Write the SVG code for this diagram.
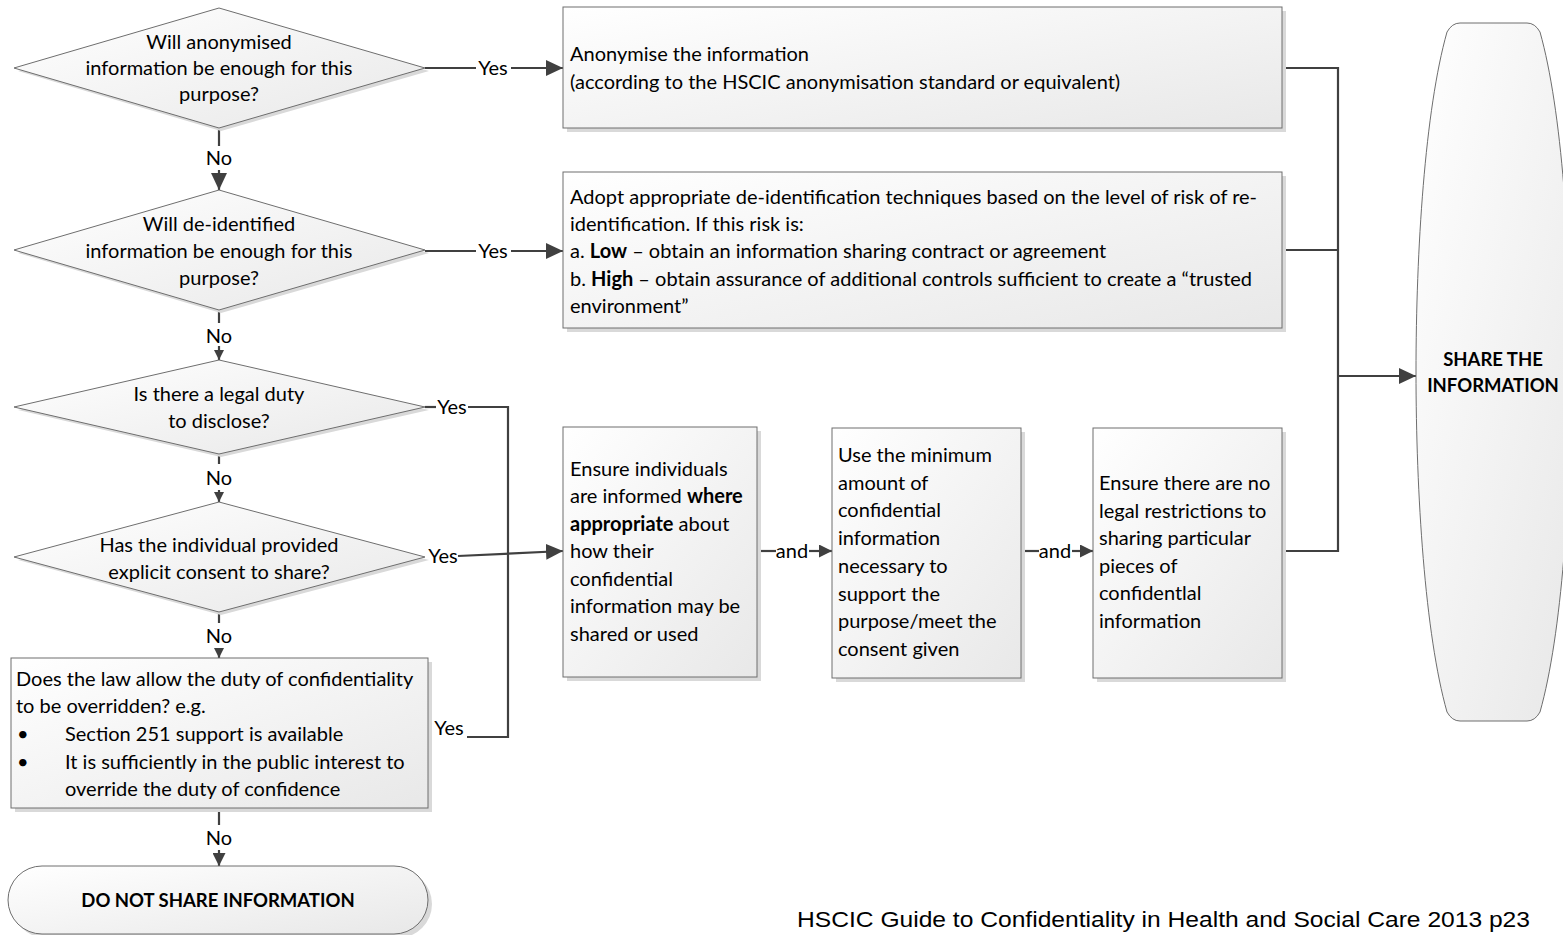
<svg xmlns="http://www.w3.org/2000/svg" width="1563" height="935" viewBox="0 0 1563 935">
<defs>
<linearGradient id="g" x1="0" y1="0" x2="1" y2="1">
<stop offset="0" stop-color="#ffffff"/>
<stop offset="1" stop-color="#e8e8e8"/>
</linearGradient>
<marker id="ah" viewBox="0 0 17 16" refX="17" refY="8" markerWidth="17" markerHeight="16" markerUnits="userSpaceOnUse" orient="auto">
<path d="M0,0 L17,8 L0,16 Z" fill="#404040"/>
</marker>
<marker id="am" viewBox="0 0 13 13" refX="13" refY="6.5" markerWidth="13" markerHeight="13" markerUnits="userSpaceOnUse" orient="auto">
<path d="M0,0 L13,6.5 L0,13 Z" fill="#404040"/>
</marker>
<marker id="as" viewBox="0 0 10 10" refX="10" refY="5" markerWidth="10" markerHeight="10" markerUnits="userSpaceOnUse" orient="auto">
<path d="M0,0 L10,5 L0,10 Z" fill="#404040"/>
</marker>
<style>
.s{fill:url(#g);stroke:#6e6e6e;stroke-width:1}
.sh{fill:#d9d9d9;stroke:none}
.t{font-family:Lato,"Open Sans",sans-serif;font-size:20px;fill:#000}
.c{text-anchor:middle}
.b{font-weight:bold}
.tb{font-family:Lato,"Open Sans",sans-serif;font-size:18.5px;font-weight:bold;fill:#000;text-anchor:middle}
.ln{fill:none;stroke:#404040;stroke-width:2.2}
.lb{font-family:Lato,"Open Sans",sans-serif;font-size:20px;fill:#000;text-anchor:middle}
</style>
</defs>
<rect width="1563" height="935" fill="#ffffff"/>

<g id="connectors">
<line class="ln" x1="425" y1="68" x2="476" y2="68"/>
<line class="ln" x1="511" y1="68" x2="563" y2="68" marker-end="url(#ah)"/>
<text class="lb" x="493" y="75">Yes</text>
<line class="ln" x1="425" y1="251" x2="476" y2="251"/>
<line class="ln" x1="511" y1="251" x2="563" y2="251" marker-end="url(#ah)"/>
<text class="lb" x="493" y="258">Yes</text>
<line class="ln" x1="219" y1="128" x2="219" y2="146"/>
<line class="ln" x1="219" y1="170" x2="219" y2="190" marker-end="url(#ah)"/>
<text class="lb" x="219" y="165">No</text>
<line class="ln" x1="219" y1="310" x2="219" y2="323"/>
<line class="ln" x1="219" y1="346" x2="219" y2="360" marker-end="url(#as)"/>
<text class="lb" x="219" y="343">No</text>
<line class="ln" x1="219" y1="454" x2="219" y2="464"/>
<line class="ln" x1="219" y1="490" x2="219" y2="502" marker-end="url(#as)"/>
<text class="lb" x="219" y="485">No</text>
<line class="ln" x1="219" y1="612" x2="219" y2="623"/>
<line class="ln" x1="219" y1="648" x2="219" y2="658" marker-end="url(#as)"/>
<text class="lb" x="219" y="643">No</text>
<line class="ln" x1="219" y1="808" x2="219" y2="825"/>
<line class="ln" x1="219" y1="850" x2="219" y2="866" marker-end="url(#am)"/>
<text class="lb" x="219" y="845">No</text>
<line class="ln" x1="425" y1="407" x2="436" y2="407"/>
<polyline class="ln" points="468,407 508,407 508,737 467,737"/>
<text class="lb" x="452" y="414">Yes</text>
<text class="lb" x="449" y="735">Yes</text>
<line class="ln" x1="458" y1="556" x2="563" y2="551" marker-end="url(#ah)"/>
<text class="lb" x="443" y="563">Yes</text>
<line class="ln" x1="757" y1="551" x2="776" y2="551"/>
<line class="ln" x1="809" y1="551" x2="832" y2="551" marker-end="url(#am)"/>
<text class="lb" x="792" y="558">and</text>
<line class="ln" x1="1021" y1="551" x2="1039" y2="551"/>
<line class="ln" x1="1072" y1="551" x2="1093" y2="551" marker-end="url(#am)"/>
<text class="lb" x="1055" y="558">and</text>
<polyline class="ln" points="1282,68 1338,68 1338,551 1282,551"/>
<line class="ln" x1="1282" y1="250" x2="1338" y2="250"/>
<line class="ln" x1="1338" y1="376" x2="1416" y2="376" marker-end="url(#ah)"/>
</g>

<g id="d1">
<polygon class="sh" points="221,11 429,71 221,131 18,71"/>
<polygon class="s" points="219,8 425,68 219,128 14,68"/>
<text class="t c" x="219" y="49">Will anonymised</text>
<text class="t c" x="219" y="75">information be enough for this</text>
<text class="t c" x="219" y="101">purpose?</text>
</g>
<g id="d2">
<polygon class="sh" points="221,193 429,253 221,313 18,253"/>
<polygon class="s" points="219,190 425,250 219,310 14,250"/>
<text class="t c" x="219" y="231">Will de-identified</text>
<text class="t c" x="219" y="258">information be enough for this</text>
<text class="t c" x="219" y="285">purpose?</text>
</g>
<g id="d3">
<polygon class="sh" points="221,363 429,410 221,457 18,410"/>
<polygon class="s" points="219,360 425,407 219,454 14,407"/>
<text class="t c" x="219" y="401">Is there a legal duty</text>
<text class="t c" x="219" y="428">to disclose?</text>
</g>
<g id="d4">
<polygon class="sh" points="221,505 429,560 221,615 18,560"/>
<polygon class="s" points="219,502 425,557 219,612 14,557"/>
<text class="t c" x="219" y="552">Has the individual provided</text>
<text class="t c" x="219" y="579">explicit consent to share?</text>
</g>
<g id="b5">
<rect class="sh" x="15" y="662" width="417" height="150"/>
<rect class="s" x="11" y="658" width="417" height="150"/>
<text class="t" x="16" y="686">Does the law allow the duty of confidentiality</text>
<text class="t" x="16" y="713">to be overridden? e.g.</text>
<text class="t" x="17" y="741">•</text>
<text class="t" x="65" y="741">Section 251 support is available</text>
<text class="t" x="17" y="769">•</text>
<text class="t" x="65" y="769">It is sufficiently in the public interest to</text>
<text class="t" x="65" y="796">override the duty of confidence</text>
</g>
<g id="stop">
<rect class="sh" x="12" y="870" width="420" height="68" rx="34"/>
<rect class="s" x="8" y="866" width="420" height="68" rx="34"/>
<text class="tb" x="218" y="907">DO NOT SHARE INFORMATION</text>
</g>
<g id="bA">
<rect class="sh" x="567" y="11" width="719" height="121"/>
<rect class="s" x="563" y="7" width="719" height="121"/>
<text class="t" x="570" y="61">Anonymise the information</text>
<text class="t" x="570" y="89">(according to the HSCIC anonymisation standard or equivalent)</text>
</g>
<g id="bB">
<rect class="sh" x="567" y="176" width="719" height="156"/>
<rect class="s" x="563" y="172" width="719" height="156"/>
<text class="t" x="570" y="204">Adopt appropriate de-identification techniques based on the level of risk of re-</text>
<text class="t" x="570" y="231">identification. If this risk is:</text>
<text class="t" x="570" y="258">a. <tspan class="b">Low</tspan> – obtain an information sharing contract or agreement</text>
<text class="t" x="570" y="286">b. <tspan class="b">High</tspan> – obtain assurance of additional controls sufficient to create a “trusted</text>
<text class="t" x="570" y="313">environment”</text>
</g>
<g id="bC">
<rect class="sh" x="567" y="431" width="194" height="250"/>
<rect class="s" x="563" y="427" width="194" height="250"/>
<text class="t" x="570" y="476">Ensure individuals</text>
<text class="t" x="570" y="503">are informed <tspan class="b">where</tspan></text>
<text class="t" x="570" y="531"><tspan class="b">appropriate</tspan> about</text>
<text class="t" x="570" y="558">how their</text>
<text class="t" x="570" y="586">confidential</text>
<text class="t" x="570" y="613">information may be</text>
<text class="t" x="570" y="641">shared or used</text>
</g>
<g id="bD">
<rect class="sh" x="836" y="432" width="189" height="250"/>
<rect class="s" x="832" y="428" width="189" height="250"/>
<text class="t" x="838" y="462">Use the minimum</text>
<text class="t" x="838" y="490">amount of</text>
<text class="t" x="838" y="517">confidential</text>
<text class="t" x="838" y="545">information</text>
<text class="t" x="838" y="573">necessary to</text>
<text class="t" x="838" y="601">support the</text>
<text class="t" x="838" y="628">purpose/meet the</text>
<text class="t" x="838" y="656">consent given</text>
</g>
<g id="bE">
<rect class="sh" x="1097" y="432" width="189" height="250"/>
<rect class="s" x="1093" y="428" width="189" height="250"/>
<text class="t" x="1099" y="490">Ensure there are no</text>
<text class="t" x="1099" y="518">legal restrictions to</text>
<text class="t" x="1099" y="545">sharing particular</text>
<text class="t" x="1099" y="573">pieces of</text>
<text class="t" x="1099" y="600">confidentlal</text>
<text class="t" x="1099" y="628">information</text>
</g>
<g id="share">
<path class="s" d="M1460,23 L1527,23 Q1535,23 1540,32 C1562,110 1571,250 1571,372 C1571,494 1562,634 1540,712 Q1535,721 1527,721 L1460,721 Q1452,721 1447,712 C1425,634 1416,494 1416,372 C1416,250 1425,110 1447,32 Q1452,23 1460,23 Z"/>
<text class="tb" x="1493" y="366">SHARE THE</text>
<text class="tb" x="1493" y="392">INFORMATION</text>
</g>
<text x="797" y="927" font-family="'Liberation Sans',Arial,sans-serif" font-size="22" textLength="733" lengthAdjust="spacingAndGlyphs" fill="#000">HSCIC Guide to Confidentiality in Health and Social Care 2013 p23</text>
</svg>
